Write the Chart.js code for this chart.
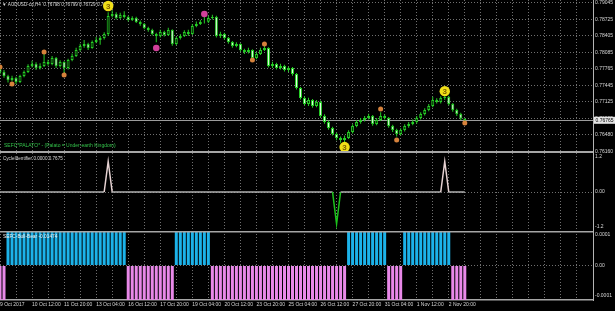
<!DOCTYPE html>
<html>
<head>
<meta charset="utf-8">
<title>AUDUSD H4</title>
<script src="https://cdn.jsdelivr.net/npm/chart.js@4.4.1/dist/chart.umd.min.js"></script>
<style>
  html, body { margin: 0; padding: 0; background: #000; }
  #wrap { position: relative; width: 615px; height: 311px; overflow: hidden; background: #000; }
  .pane { position: absolute; left: 0; width: 615px; }
</style>
</head>
<body>
<div id="wrap">
  <div class="pane" style="top:0;height:153px"><canvas id="price"></canvas></div>
  <div class="pane" style="top:153px;height:78px"><canvas id="cycle"></canvas></div>
  <div class="pane" style="top:231px;height:80px"><canvas id="bullbear"></canvas></div>
</div>
<script>
// H4 bars, bar 0 = 9 Oct 04:00 ... bar 116 = 3 Nov 12:00
const opens = [
  0.77760, 0.77701, 0.77623, 0.77546, 0.77585, 0.77507, 0.77623, 0.77701, 0.77817, 0.77856,
  0.77778, 0.77817, 0.77895, 0.77856, 0.77972, 0.77817, 0.77895, 0.77778, 0.77934, 0.78011,
  0.78128, 0.78205, 0.78244, 0.78166, 0.78283, 0.78321, 0.78360, 0.78438, 0.78787, 0.78826,
  0.78748, 0.78806, 0.78767, 0.78709, 0.78748, 0.78670, 0.78632, 0.78554, 0.78515, 0.78438,
  0.78399, 0.78477, 0.78418, 0.78515, 0.78244, 0.78360, 0.78399, 0.78477, 0.78438, 0.78593,
  0.78632, 0.78670, 0.78676, 0.78748, 0.78767, 0.78399, 0.78438, 0.78360, 0.78283, 0.78205,
  0.78244, 0.78128, 0.78089, 0.78128, 0.77972, 0.78050, 0.78128, 0.78166, 0.77817, 0.77856,
  0.77778, 0.77817, 0.77740, 0.77778, 0.77662, 0.77391, 0.77197, 0.77080, 0.77158, 0.77042,
  0.77119, 0.76848, 0.76732, 0.76615, 0.76499, 0.76421, 0.76382, 0.76421, 0.76538, 0.76654,
  0.76732, 0.76770, 0.76809, 0.76848, 0.76693, 0.76770, 0.76848, 0.76809, 0.76654, 0.76576,
  0.76499, 0.76576, 0.76654, 0.76693, 0.76732, 0.76809, 0.76887, 0.76964, 0.77042, 0.77158,
  0.77119, 0.77197, 0.77216, 0.77080, 0.76964, 0.76887, 0.76798
];
const highs = [
  0.77800, 0.77740, 0.77650, 0.77630, 0.77610, 0.77650, 0.77730, 0.77850, 0.77920, 0.77890,
  0.77870, 0.78060, 0.77940, 0.78010, 0.77990, 0.77930, 0.77910, 0.77960, 0.78060, 0.78170,
  0.78250, 0.78320, 0.78270, 0.78310, 0.78380, 0.78400, 0.78470, 0.78860, 0.78900, 0.78860,
  0.78850, 0.78880, 0.78790, 0.78780, 0.78770, 0.78700, 0.78650, 0.78580, 0.78540, 0.78460,
  0.78520, 0.78500, 0.78560, 0.78530, 0.78390, 0.78440, 0.78510, 0.78520, 0.78630, 0.78680,
  0.78710, 0.78780, 0.78790, 0.78810, 0.78790, 0.78480, 0.78460, 0.78380, 0.78300, 0.78280,
  0.78260, 0.78150, 0.78170, 0.78140, 0.78090, 0.78170, 0.78230, 0.78180, 0.77900, 0.77880,
  0.77860, 0.77840, 0.77810, 0.77800, 0.77680, 0.77410, 0.77230, 0.77200, 0.77180, 0.77160,
  0.77150, 0.76880, 0.76760, 0.76640, 0.76530, 0.76450, 0.76470, 0.76570, 0.76690, 0.76770,
  0.76810, 0.76850, 0.76890, 0.76870, 0.76810, 0.76920, 0.76880, 0.76830, 0.76680, 0.76600,
  0.76610, 0.76690, 0.76730, 0.76780, 0.76850, 0.76920, 0.77000, 0.77080, 0.77220, 0.77190,
  0.77230, 0.77240, 0.77240, 0.77100, 0.76990, 0.76910, 0.76799
];
const lows = [
  0.77660, 0.77590, 0.77500, 0.77520, 0.77470, 0.77490, 0.77600, 0.77680, 0.77790, 0.77740,
  0.77750, 0.77800, 0.77820, 0.77830, 0.77780, 0.77790, 0.77660, 0.77750, 0.77910, 0.77990,
  0.78100, 0.78170, 0.78130, 0.78150, 0.78260, 0.78230, 0.78330, 0.78400, 0.78760, 0.78720,
  0.78730, 0.78740, 0.78680, 0.78690, 0.78650, 0.78600, 0.78530, 0.78480, 0.78410, 0.78280,
  0.78370, 0.78390, 0.78400, 0.78210, 0.78220, 0.78330, 0.78380, 0.78400, 0.78420, 0.78570,
  0.78610, 0.78640, 0.78650, 0.78720, 0.78370, 0.78360, 0.78330, 0.78250, 0.78170, 0.78180,
  0.78100, 0.78050, 0.78060, 0.77950, 0.77950, 0.78030, 0.78110, 0.77790, 0.77780, 0.77750,
  0.77750, 0.77710, 0.77700, 0.77630, 0.77360, 0.77170, 0.77050, 0.77040, 0.77010, 0.77020,
  0.76820, 0.76700, 0.76580, 0.76470, 0.76380, 0.76330, 0.76340, 0.76400, 0.76510, 0.76630,
  0.76700, 0.76740, 0.76780, 0.76660, 0.76670, 0.76750, 0.76780, 0.76620, 0.76540, 0.76450,
  0.76470, 0.76550, 0.76620, 0.76670, 0.76700, 0.76780, 0.76860, 0.76940, 0.77020, 0.77090,
  0.77090, 0.77160, 0.77050, 0.76930, 0.76850, 0.76770, 0.76729
];
const closes = [
  0.77701, 0.77623, 0.77546, 0.77585, 0.77507, 0.77623, 0.77701, 0.77817, 0.77856, 0.77778,
  0.77817, 0.77895, 0.77856, 0.77972, 0.77817, 0.77895, 0.77778, 0.77934, 0.78011, 0.78128,
  0.78205, 0.78244, 0.78166, 0.78283, 0.78321, 0.78360, 0.78438, 0.78787, 0.78826, 0.78748,
  0.78806, 0.78767, 0.78709, 0.78748, 0.78670, 0.78632, 0.78554, 0.78515, 0.78438, 0.78399,
  0.78477, 0.78418, 0.78515, 0.78244, 0.78360, 0.78399, 0.78477, 0.78438, 0.78593, 0.78632,
  0.78670, 0.78676, 0.78748, 0.78767, 0.78399, 0.78438, 0.78360, 0.78283, 0.78205, 0.78244,
  0.78128, 0.78089, 0.78128, 0.77972, 0.78050, 0.78128, 0.78166, 0.77817, 0.77856, 0.77778,
  0.77817, 0.77740, 0.77778, 0.77662, 0.77391, 0.77197, 0.77080, 0.77158, 0.77042, 0.77119,
  0.76848, 0.76732, 0.76615, 0.76499, 0.76421, 0.76382, 0.76421, 0.76538, 0.76654, 0.76732,
  0.76770, 0.76809, 0.76848, 0.76693, 0.76770, 0.76848, 0.76809, 0.76654, 0.76576, 0.76499,
  0.76576, 0.76654, 0.76693, 0.76732, 0.76809, 0.76887, 0.76964, 0.77042, 0.77158, 0.77119,
  0.77197, 0.77216, 0.77080, 0.76964, 0.76887, 0.76798, 0.76765
];

const priceTicks = [0.79045, 0.78725, 0.78405, 0.78085, 0.77765, 0.77445, 0.77125, 0.76805, 0.76480, 0.76160];
const timeLabels = ['9 Oct 2017', '10 Oct 12:00', '11 Oct 20:00', '13 Oct 04:00', '16 Oct 12:00',
  '17 Oct 20:00', '19 Oct 04:00', '20 Oct 12:00', '23 Oct 20:00', '25 Oct 04:00', '26 Oct 12:00',
  '27 Oct 20:00', '31 Oct 04:00', '1 Nov 12:00', '2 Nov 20:00'];

// arrows / dots on the price pane
const orangeBars = [0, 3, 11, 16, 63, 66, 95, 99, 116];
const orangeLevels = [0.77798, 0.77468, 0.78089, 0.77643, 0.77934, 0.78244, 0.76984, 0.76382, 0.76712];
const pinkBars = [39, 51];
const pinkLevels = [0.78166, 0.78826];
const signalBars = [27, 86, 111];
const signalLevels = [0.78981, 0.76246, 0.77330];

const cycleValues = [
  0, 0, 0, 0, 0, 0, 0, 0, 0, 0, 0, 0, 0, 0, 0, 0, 0, 0, 0, 0,
  0, 0, 0, 0, 0, 0, 0, 1.05, 0, 0, 0, 0, 0, 0, 0, 0, 0, 0, 0, 0,
  0, 0, 0, 0, 0, 0, 0, 0, 0, 0, 0, 0, 0, 0, 0, 0, 0, 0, 0, 0,
  0, 0, 0, 0, 0, 0, 0, 0, 0, 0, 0, 0, 0, 0, 0, 0, 0, 0, 0, 0,
  0, 0, 0, 0, -1.1, 0, 0, 0, 0, 0, 0, 0, 0, 0, 0, 0, 0, 0, 0, 0,
  0, 0, 0, 0, 0, 0, 0, 0, 0, 0, 0, 1.05, 0, 0, 0, 0, 0
];

const bullBear = [
  -1e-4, -1e-4, 1e-4, 1e-4, 1e-4, 1e-4, 1e-4, 1e-4, 1e-4, 1e-4,
  1e-4, 1e-4, 1e-4, 1e-4, 1e-4, 1e-4, 1e-4, 1e-4, 1e-4, 1e-4,
  1e-4, 1e-4, 1e-4, 1e-4, 1e-4, 1e-4, 1e-4, 1e-4, 1e-4, 1e-4,
  1e-4, 1e-4, -1e-4, -1e-4, -1e-4, -1e-4, -1e-4, -1e-4, -1e-4, -1e-4,
  -1e-4, -1e-4, -1e-4, -1e-4, 1e-4, 1e-4, 1e-4, 1e-4, 1e-4, 1e-4,
  1e-4, 1e-4, 1e-4, -1e-4, -1e-4, -1e-4, -1e-4, -1e-4, -1e-4, -1e-4,
  -1e-4, -1e-4, -1e-4, -1e-4, -1e-4, -1e-4, -1e-4, -1e-4, -1e-4, -1e-4,
  -1e-4, -1e-4, -1e-4, -1e-4, -1e-4, -1e-4, -1e-4, -1e-4, -1e-4, -1e-4,
  -1e-4, -1e-4, -1e-4, -1e-4, -1e-4, -1e-4, -1e-4, 1e-4, 1e-4, 1e-4,
  1e-4, 1e-4, 1e-4, 1e-4, 1e-4, 1e-4, 1e-4, -1e-4, -1e-4, -1e-4,
  -1e-4, 1e-4, 1e-4, 1e-4, 1e-4, 1e-4, 1e-4, 1e-4, 1e-4, 1e-4,
  1e-4, 1e-4, 1e-4, -1e-4, -1e-4, -1e-4, -1e-4
];

const GREEN = '#26cc26';
const GRID = '#707070';
const AXIS = '#b4b4b4';
const RULE = '#a6a6a6';
const TXT = '#d6d6d6';
const FONT = "'Liberation Sans', 'DejaVu Sans', sans-serif";

Chart.defaults.font.family = FONT;
Chart.defaults.font.size = 5;
Chart.defaults.color = TXT;
Chart.defaults.animation = false;
Chart.defaults.layout.autoPadding = false;
Chart.defaults.plugins.legend.display = false;
Chart.defaults.plugins.tooltip.enabled = false;

const gridBars = [];
for (let b = 0; b <= 144; b += 4) gridBars.push(b);

function xScale(withLabels) {
  return {
    type: 'linear', min: 0, max: 148, offset: false,
    afterBuildTicks: s => { s.ticks = gridBars.map(v => ({ value: v })); },
    afterFit: s => { s.paddingLeft = 0; s.paddingRight = 0; s.height = withLabels ? 11 : 0; },
    grid: { color: GRID, drawTicks: false, offset: false },
    border: { display: withLabels, color: RULE, width: 1.5, dash: [1, 2] },
    ticks: {
      display: withLabels, autoSkip: false, maxRotation: 0, align: 'start', padding: 2,
      callback: (v, i) => (i % 2 === 0 && timeLabels[i / 2]) ? timeLabels[i / 2] : ''
    }
  };
}

function yScale(min, max, tickValues, fmt, gridAll) {
  return {
    position: 'right', min: min, max: max,
    afterBuildTicks: s => { s.ticks = tickValues.map(v => ({ value: v })); },
    afterFit: s => { s.width = 22; s.paddingTop = 0; s.paddingBottom = 0; },
    grid: {
      drawTicks: false,
      color: c => (gridAll || (c.tick && c.tick.value === 0)) ? GRID : 'rgba(0,0,0,0)'
    },
    border: { display: true, color: AXIS, width: 1, dash: [1, 2] },
    ticks: { autoSkip: false, padding: 2, callback: fmt }
  };
}

function drawTexts(chart, list) {
  if (!list) return;
  const { ctx, chartArea } = chart;
  ctx.save();
  ctx.textBaseline = 'middle';
  ctx.textAlign = 'left';
  list.forEach(t => {
    ctx.font = (t.size || 5) + 'px ' + FONT;
    ctx.fillStyle = t.color;
    ctx.fillText(t.text, chartArea.left + t.x, chartArea.top + t.y);
  });
  ctx.restore();
}

const paneDecor = {
  id: 'paneDecor',
  beforeDatasetsDraw(chart, args, o) {
    const { ctx, chartArea, scales } = chart;
    if (o.bid !== undefined) {
      const y = Math.round(scales.y.getPixelForValue(o.bid)) + 0.5;
      ctx.save();
      ctx.strokeStyle = '#9c9c9c';
      ctx.lineWidth = 1;
      ctx.beginPath();
      ctx.moveTo(chartArea.left, y);
      ctx.lineTo(chartArea.right, y);
      ctx.stroke();
      ctx.restore();
    }
    drawTexts(chart, o.below);
  },
  afterDatasetsDraw(chart, args, o) {
    drawTexts(chart, o.above);
    if (o.signalSet !== undefined) {
      const { ctx } = chart;
      ctx.save();
      ctx.font = 'bold 8px ' + FONT;
      ctx.fillStyle = '#7d6000';
      ctx.textAlign = 'center';
      ctx.textBaseline = 'middle';
      chart.getDatasetMeta(o.signalSet).data.forEach(p => ctx.fillText('3', p.x, p.y + 0.5));
      ctx.restore();
    }
  },
  afterDraw(chart, args, o) {
    const { ctx, chartArea, scales } = chart;
    ctx.save();
    ctx.fillStyle = RULE;
    (o.rules || []).forEach(r => ctx.fillRect(chartArea.left, chartArea.top + r.y, chartArea.right - chartArea.left, r.h));
    if (o.bid !== undefined) {
      const y = scales.y.getPixelForValue(o.bid);
      ctx.fillStyle = '#e4e4e4';
      ctx.fillRect(chartArea.right + 1, y - 3.5, 22, 7);
      ctx.fillStyle = '#000';
      ctx.font = '5px ' + FONT;
      ctx.textBaseline = 'middle';
      ctx.fillText(o.bid.toFixed(5), chartArea.right + 2.5, y);
    }
    ctx.restore();
  }
};

const lastClose = closes[closes.length - 1];

new Chart(document.getElementById('price'), {
  type: 'bar',
  data: {
    datasets: [
      {
        type: 'scatter', order: 0,
        data: signalBars.map((b, k) => ({ x: b, y: signalLevels[k] })),
        pointRadius: 5.2, pointBackgroundColor: '#f1df18', pointBorderWidth: 0
      },
      {
        type: 'scatter', order: 0,
        data: pinkBars.map((b, k) => ({ x: b, y: pinkLevels[k] })),
        pointRadius: 3.3, pointBackgroundColor: '#d1409a', pointBorderWidth: 0
      },
      {
        type: 'scatter', order: 0,
        data: orangeBars.map((b, k) => ({ x: b, y: orangeLevels[k] })),
        pointRadius: 2.5, pointBackgroundColor: '#d6823c', pointBorderWidth: 0
      },
      {
        order: 1, grouped: false, barThickness: 3,
        data: closes.map((c, i) => ({ x: i, y: [opens[i], c] })),
        backgroundColor: closes.map((c, i) => c < opens[i] ? '#e4ffe4' : '#062806'),
        borderColor: GREEN, borderWidth: 1, borderSkipped: false, inflateAmount: 0
      },
      {
        order: 2, grouped: false, barThickness: 1,
        data: closes.map((c, i) => ({ x: i, y: [lows[i], highs[i]] })),
        backgroundColor: GREEN, borderWidth: 0, inflateAmount: 0
      }
    ]
  },
  options: {
    responsive: true, maintainAspectRatio: false, devicePixelRatio: 1,
    layout: { padding: 0, autoPadding: false },
    scales: {
      x: xScale(false),
      y: yScale(0.76131, 0.79097, priceTicks, v => v.toFixed(5), true)
    },
    plugins: {
      paneDecor: {
        bid: lastClose,
        signalSet: 0,
        rules: [{ y: 151, h: 2 }],
        below: [
          { text: '\u25BC AUDUSD-cd,H4  0.76798 0.76799 0.76729 0.76765', x: 2, y: 5, size: 4.6, color: '#dcdcdc' },
          { text: 'SEFC*PALATO* - (Palato = Under-earth Kingdom)', x: 4, y: 146, color: '#33c24a' }
        ]
      }
    }
  },
  plugins: [paneDecor]
});

new Chart(document.getElementById('cycle'), {
  type: 'line',
  data: {
    datasets: [{
      data: cycleValues.map((v, i) => ({ x: i, y: v })),
      borderColor: '#b0b0b0', borderWidth: 1.5, pointRadius: 0, tension: 0,
      segment: {
        borderColor: c => {
          const a = c.p0.parsed.y, b = c.p1.parsed.y;
          if (a < 0 || b < 0) return '#1cc41c';
          if (a > 0 || b > 0) return '#e6d2d2';
          return '#b0b0b0';
        }
      }
    }]
  },
  options: {
    responsive: true, maintainAspectRatio: false, devicePixelRatio: 1,
    layout: { padding: 0, autoPadding: false },
    scales: {
      x: xScale(false),
      y: yScale(-1.34, 1.34, [1.2, 0, -1.2], v => v === 0 ? '0.00' : String(v), false)
    },
    plugins: {
      paneDecor: {
        above: [{ text: 'CycleIdentifier 0.0000 0.7675', x: 3, y: 6, size: 4.6, color: '#dcdcdc' }]
      }
    }
  },
  plugins: [paneDecor]
});

const bbLabels = ['0.0001', '0.00', '-0.0001'];
new Chart(document.getElementById('bullbear'), {
  type: 'bar',
  data: {
    datasets: [{
      grouped: false, barThickness: 3,
      data: bullBear.map((v, i) => ({ x: i, y: v })),
      backgroundColor: bullBear.map(v => v > 0 ? '#1cb3ea' : '#e888e8'),
      borderWidth: 0, inflateAmount: 0
    }]
  },
  options: {
    responsive: true, maintainAspectRatio: false, devicePixelRatio: 1,
    layout: { padding: 0, autoPadding: false },
    scales: {
      x: xScale(true),
      y: yScale(-0.0001, 0.0001, [0.0000884, 0, -0.0000884], (v, i) => bbLabels[i], false)
    },
    plugins: {
      paneDecor: {
        rules: [{ y: 0, h: 1.5 }],
        above: [{ text: 'SEFC-Bull-Bear -0.01474', x: 3, y: 6, size: 4.8, color: '#f0f0f0' }]
      }
    }
  },
  plugins: [paneDecor]
});
</script>
</body>
</html>
